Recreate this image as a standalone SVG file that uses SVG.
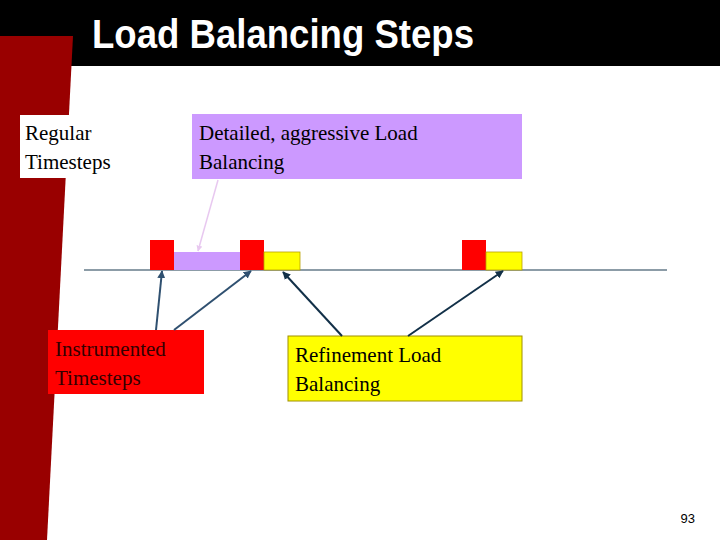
<svg xmlns="http://www.w3.org/2000/svg" width="720" height="540" viewBox="0 0 720 540">
<defs>
<style>
.t{font-family:"Liberation Serif",serif;font-size:21px;fill:#000}
.ti{font-family:"Liberation Serif",serif;font-size:21px;fill:#300}
</style>
<marker id="a" viewBox="0 0 10 10" refX="9" refY="5" markerWidth="4" markerHeight="4" orient="auto"><path d="M0,0L10,5L0,10z" fill="#2f5070"/></marker>
<marker id="ad" viewBox="0 0 10 10" refX="9" refY="5" markerWidth="4" markerHeight="4" orient="auto"><path d="M0,0L10,5L0,10z" fill="#123048"/></marker>
<marker id="ap" viewBox="0 0 10 10" refX="9" refY="5" markerWidth="4" markerHeight="4" orient="auto"><path d="M0,0L10,5L0,10z" fill="#e8c8f0"/></marker>
</defs>
<rect width="720" height="540" fill="#fff"/>
<rect width="720" height="66" fill="#000"/>
<polygon points="0,36 73,36 47,540 0,540" fill="#990000"/>
<text x="92" y="48" font-family="Liberation Sans Narrow,Liberation Sans,sans-serif" font-weight="bold" font-size="40" fill="#fff" textLength="382" lengthAdjust="spacingAndGlyphs">Load Balancing Steps</text>
<line x1="84" y1="270" x2="667" y2="270" stroke="#1a3a50" stroke-width="1.2"/>
<g id="timeline">
<rect x="150" y="240" width="24" height="30" fill="#f00"/>
<rect x="174" y="252" width="66" height="18" fill="#cc99ff"/>
<rect x="240" y="240" width="24" height="30" fill="#f00"/>
<rect x="264" y="252" width="36" height="18" fill="#ff0" stroke="#b8a000" stroke-width="0.8"/>
<rect x="462" y="240" width="24" height="30" fill="#f00"/>
<rect x="486" y="252" width="36" height="18" fill="#ff0" stroke="#b8a000" stroke-width="0.8"/>
</g>
<g id="regular"><rect x="20" y="115" width="104" height="63" fill="#fff"/>
<text class="t" x="25" y="140">Regular</text><text class="t" x="25" y="169">Timesteps</text></g>
<g id="detailed"><rect x="192" y="114" width="330" height="65" fill="#cc99ff"/>
<text class="t" x="199" y="140">Detailed, aggressive Load</text><text class="t" x="199" y="169">Balancing</text></g>
<g id="instrumented"><rect x="48" y="330" width="156" height="64" fill="#f00"/>
<text class="ti" x="55" y="356">Instrumented</text><text class="ti" x="55" y="385">Timesteps</text></g>
<g id="refinement"><rect x="288" y="336" width="234" height="65" fill="#ff0" stroke="#a09000" stroke-width="1"/>
<text class="t" x="295" y="362">Refinement Load</text><text class="t" x="295" y="391">Balancing</text></g>
<g id="connectors" fill="none">
<line x1="218" y1="180" x2="198" y2="251" stroke="#e8c8f0" stroke-width="1.5" marker-end="url(#ap)"/>
<line x1="156" y1="330" x2="162" y2="271" stroke="#2f5070" stroke-width="2" marker-end="url(#a)"/>
<line x1="174" y1="330" x2="251" y2="271" stroke="#2f5070" stroke-width="2" marker-end="url(#a)"/>
<line x1="342" y1="336" x2="283" y2="272" stroke="#123048" stroke-width="2" marker-end="url(#ad)"/>
<line x1="408" y1="336" x2="503" y2="271" stroke="#123048" stroke-width="2" marker-end="url(#ad)"/>
</g>
<text x="695" y="523" font-family="Liberation Sans,sans-serif" font-size="13" text-anchor="end">93</text>
</svg>
